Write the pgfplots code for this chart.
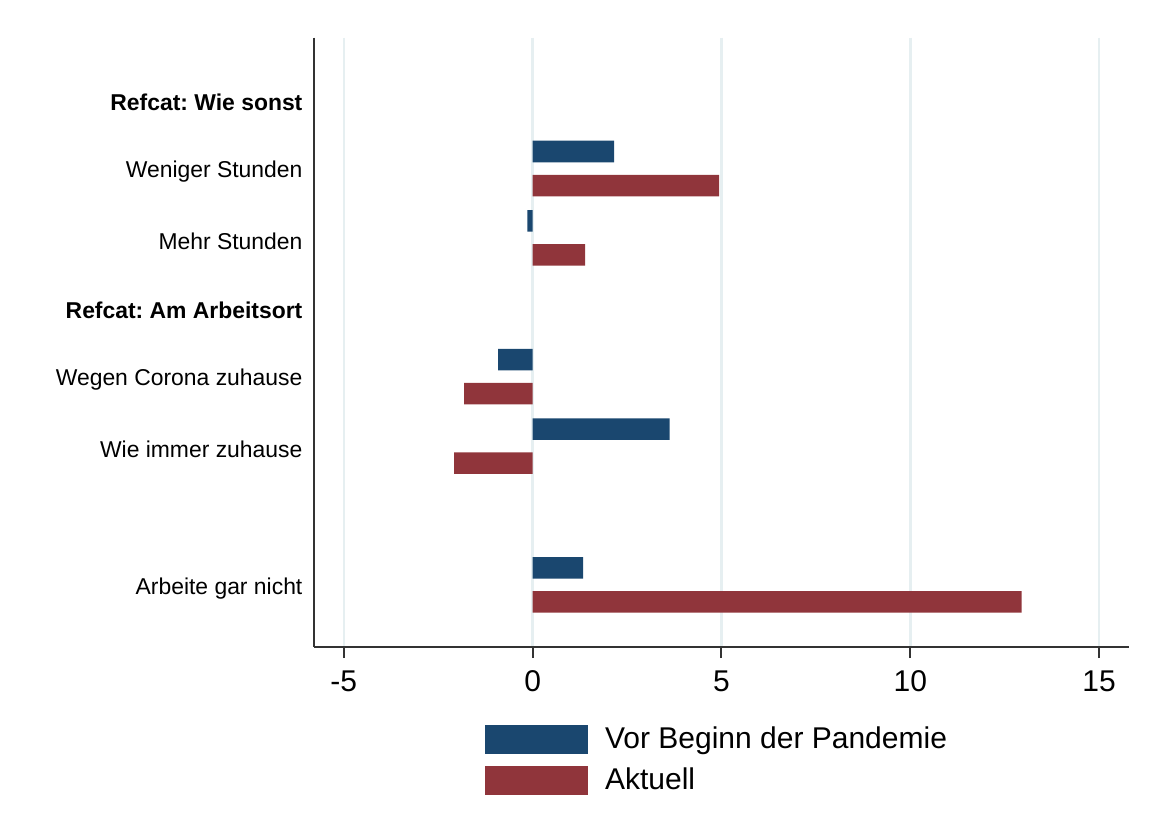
\documentclass[border=0pt]{standalone}
\usepackage{fontspec}
\setmainfont{Liberation Sans}
\usepackage{pgfplots}
\usepackage{pgfplotstable}
\pgfplotsset{compat=1.18}
\frenchspacing

\definecolor{vorblue}{RGB}{26,71,111}
\definecolor{aktred}{RGB}{144,53,59}
\definecolor{gridc}{RGB}{230,239,241}
\definecolor{axisc}{RGB}{51,51,51}

% Coefficients per category (row 6 is an empty spacer slot)
\pgfplotstableread{
idx vor akt
1 2.16 4.94
2 -0.14 1.39
4 -0.91 -1.81
5 3.63 -2.08
7 1.34 12.95
}\coeftable

\begin{document}
\begin{tikzpicture}
\path[use as bounding box] (0,0) rectangle (576.5pt,419.5pt);
\begin{axis}[
  at={(157.15pt,96.15pt)}, anchor=south west,
  scale only axis, width=407.35pt, height=304.5pt,
  y dir=reverse,
  xmin=-5.78, xmax=15.79, ymin=-0.885, ymax=7.89,
  axis x line=bottom, axis y line=left,
  axis line style={-, axisc, line width=1pt},
  xtick={-5,0,5,10,15}, xticklabels={-5,0,5,10,15},
  ytick={0,1,2,3,4,5,7},
  yticklabels={\textbf{Refcat: Wie sonst}, Weniger Stunden, Mehr Stunden,
    \textbf{Refcat: Am Arbeitsort}, Wegen Corona zuhause, Wie immer zuhause,
    Arbeite gar nicht},
  tick align=outside, major tick length=5.75pt,
  xtick style={axisc, line width=1pt},
  ytick style={draw=none},
  xticklabel style={font=\fontsize{15}{18}\selectfont, inner sep=0pt, anchor=north, yshift=-6pt},
  yticklabel style={font=\fontsize{11.45}{13.5}\selectfont, inner sep=0pt, anchor=east, yshift=-1.6pt},
  xmajorgrids, major grid style={gridc, line width=1.2pt},
  bar width=0.31,
  legend style={draw=none, fill=none, inner sep=0pt, row sep=6pt,
    at={(0.2087,-0.1274)}, anchor=north west,
    font=\fontsize{15}{17}\selectfont,
    nodes={inner sep=0pt, anchor=west},
    /tikz/every odd column/.append style={column sep=8.5pt}},
]
\addplot[xbar, bar shift=-0.245, fill=vorblue, draw=none,
  legend image code/.code={\fill[vorblue] (0pt,-7.25pt) rectangle (51.7pt,7.25pt);}]
  table[x=vor, y=idx] {\coeftable};
\addplot[xbar, bar shift=0.245, fill=aktred, draw=none,
  legend image code/.code={\fill[aktred] (0pt,-7.25pt) rectangle (51.7pt,7.25pt);}]
  table[x=akt, y=idx] {\coeftable};
\legend{Vor Beginn der Pandemie, Aktuell}
\end{axis}
\end{tikzpicture}
\end{document}
